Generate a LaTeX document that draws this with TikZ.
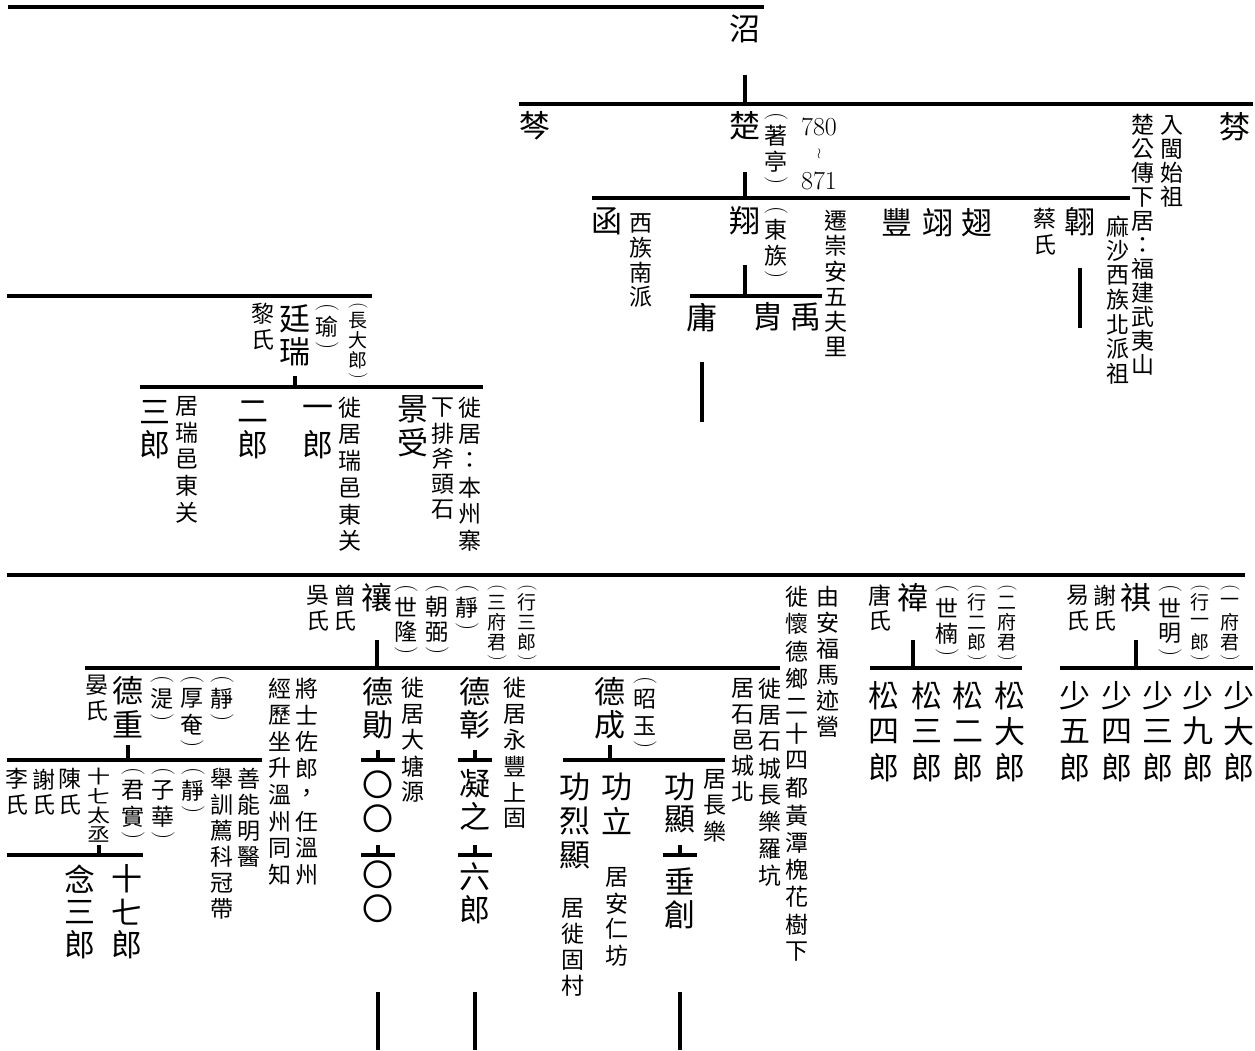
\documentclass[tikz,border=0pt]{standalone}
\usepackage{fontspec}
\usepackage{graphicx}
\usetikzlibrary{calc}
\newfontfamily\cjk{Noto Sans CJK TC}
\def\vtp{26pt}
\makeatletter
\def\vt@loop#1{\ifx#1\relax\else\vt@cell#1\expandafter\vt@loop\fi}
\def\vt@cell#1{%
  \ifx#1︵\vt@paren(\else
  \ifx#1︶\vt@paren)\else
  \vbox to\vt@p{\vss\hbox to1em{\hss#1\hss}\vss}\fi\fi}
\def\vt@paren#1{\vbox to.5em{\vss\hbox to1em{\hss\rotatebox{-90}{\normalfont#1}\hss}\vss}}
\newcommand\vt[2][\vtp]{\vbox{\offinterlineskip\edef\vt@p{#1}\vt@loop#2\relax}}
\makeatother

\begin{document}
\begin{tikzpicture}[x=1pt,y=-1pt,
  big/.style={font=\cjk\fontsize{31}{31}\selectfont\def\vtp{34pt},inner sep=0pt,anchor=north},
  note/.style={font=\cjk\fontsize{23}{23}\selectfont\def\vtp{26pt},inner sep=0pt,anchor=north},
  tiny/.style={font=\cjk\fontsize{19}{19}\selectfont\def\vtp{20pt},inner sep=0pt,anchor=north},
  year/.style={font=\fontsize{26}{26}\selectfont,inner sep=0pt},
  bar/.style={line width=3.5pt}]
  \useasboundingbox (0,0) rectangle (1255,1050);

  \coordinate (b0L) at (8,7);      \coordinate (b0R) at (764,7);
  \coordinate (b1L) at (519,104);  \coordinate (b1R) at (1253,104);
  \coordinate (b2L) at (592,198);  \coordinate (b2R) at (1130,198);
  \coordinate (b3L) at (690,296);  \coordinate (b3R) at (822,296);
  \coordinate (b4L) at (7,296);    \coordinate (b4R) at (372,296);
  \coordinate (b5L) at (140,387);  \coordinate (b5R) at (483,387);
  \coordinate (b6L) at (7,575);    \coordinate (b6R) at (1245,575);
  \coordinate (b7L) at (85,668);   \coordinate (b7R) at (780,668);
  \coordinate (b8L) at (870,668);  \coordinate (b8R) at (1022,668);
  \coordinate (b9L) at (1060,668); \coordinate (b9R) at (1253,668);
  \coordinate (b10L) at (7,760);   \coordinate (b10R) at (262,760);
  \coordinate (b11L) at (7,855);   \coordinate (b11R) at (143,855);
  \coordinate (b12L) at (563,760); \coordinate (b12R) at (725,760);
  \foreach \i in {0,...,12}
    \draw[bar] (b\i L) -- (b\i R);

  \node[big] (zhao) at (745,12) {\vt{沼}};

  \node[big] (chen) at (535,109) {\vt{棽}};
  \node[big] (chu) at (745,109) {\vt{楚}};
  \node[note] (chuzi) at (776,111) {\vt{︵著亭︶}};
  \node[year] (chuA) at (819,127) {780};
  \node[year,font=\fontsize{15}{15}\selectfont] (chuB) at (819,154) {$\wr$};
  \node[year] (chuC) at (819,181) {871};
  \node[big] (fen) at (1235,109) {\vt{棼}};
  \node[note] (fenA) at (1172,113) {\vt[24pt]{入閩始祖}};
  \node[note] (fenB) at (1143,113) {\vt[24pt]{楚公傳下居：福建武夷山}};
  \node[note] (fenC) at (1118,214) {\vt[24.5pt]{麻沙西族北派祖}};

  \node[big] (han) at (607,204) {\vt{函}};
  \node[note] (hanA) at (641,211) {\vt[24.5pt]{西族南派}};
  \node[big] (xiang) at (745,204) {\vt{翔}};
  \node[note] (xiangzi) at (776,205) {\vt{︵東族︶}};
  \node[note] (xiangA) at (836,208) {\vt[25.3pt]{遷崇安五夫里}};
  \node[big] (feng) at (897,205) {\vt{豐}};
  \node[big] (yi) at (938,205) {\vt{翊}};
  \node[big] (chi) at (977,205) {\vt{翅}};
  \node[note] (caiShi) at (1045,206) {\vt{蔡氏}};
  \node[big] (ao) at (1080,204) {\vt{翺}};

  \node[big] (yong) at (702,300) {\vt{庸}};
  \node[big] (zhou) at (768,300) {\vt{胄}};
  \node[big] (yu) at (806,300) {\vt{禹}};

  \node[note] (liShi) at (263,301) {\vt{黎氏}};
  \node[big] (tingrui) at (295,302) {\vt[33pt]{廷瑞}};
  \node[note] (tingruizi) at (327,302) {\vt{︵瑜︶}};
  \node[tiny] (tingruiA) at (358,301) {\vt{︵長大郎︶}};
  \node[big] (sanlang) at (155,395) {\vt[33pt]{三郎}};
  \node[note] (sanlangA) at (187,393) {\vt[26.5pt]{居瑞邑東关}};
  \node[big] (erlang) at (253,395) {\vt[33pt]{二郎}};
  \node[big] (yilang) at (318,395) {\vt[33pt]{一郎}};
  \node[note] (yilangA) at (350,394) {\vt[26.7pt]{徙居瑞邑東关}};
  \node[big] (jingshou) at (413,393) {\vt[33pt]{景受}};
  \node[note] (jingshouA) at (443,395) {\vt[25.5pt]{下排斧頭石}};
  \node[note] (jingshouB) at (470,394) {\vt[26.7pt]{徙居：本州寨}};

  \node[note] (wuShi) at (318,582) {\vt{吳氏}};
  \node[note] (zengShi) at (345,582) {\vt{曾氏}};
  \node[big] (rang) at (377,580) {\vt{禳}};
  \node[note] (rangA) at (406,583) {\vt[25pt]{︵世隆︶}};
  \node[note] (rangB) at (437,583) {\vt[25pt]{︵朝弼︶}};
  \node[note] (rangC) at (467,583) {\vt{︵靜︶}};
  \node[tiny] (rangD) at (497,583) {\vt{︵三府君︶}};
  \node[tiny] (rangE) at (527,583) {\vt{︵行三郎︶}};
  \node[note] (rangF) at (797,583) {\vt[27.3pt]{徙懷德鄉二十四都黃潭槐花樹下}};
  \node[note] (rangG) at (828,584) {\vt{由安福馬迹營}};

  \node[note] (tangShi) at (880,582) {\vt{唐氏}};
  \node[big] (wei) at (913,580) {\vt{禕}};
  \node[note] (weiA) at (947,583) {\vt{︵世楠︶}};
  \node[tiny] (weiB) at (977,583) {\vt{︵行二郎︶}};
  \node[tiny] (weiC) at (1007,583) {\vt{︵二府君︶}};
  \node[big] (song4) at (884,677) {\vt[36pt]{松四郎}};
  \node[big] (song3) at (927,677) {\vt[36pt]{松三郎}};
  \node[big] (song2) at (968,677) {\vt[36pt]{松二郎}};
  \node[big] (song1) at (1010,677) {\vt[36pt]{松大郎}};

  \node[note] (yiShi) at (1078,582) {\vt{易氏}};
  \node[note] (xieShi) at (1105,582) {\vt{謝氏}};
  \node[big] (qi) at (1136,580) {\vt{祺}};
  \node[note] (qiA) at (1170,583) {\vt{︵世明︶}};
  \node[tiny] (qiB) at (1200,583) {\vt{︵行一郎︶}};
  \node[tiny] (qiC) at (1230,583) {\vt{︵一府君︶}};
  \node[big] (shao5) at (1075,677) {\vt[36pt]{少五郎}};
  \node[big] (shao4) at (1117,677) {\vt[36pt]{少四郎}};
  \node[big] (shao3) at (1158,677) {\vt[36pt]{少三郎}};
  \node[big] (shao9) at (1198,677) {\vt[36pt]{少九郎}};
  \node[big] (shao1) at (1239,677) {\vt[36pt]{少大郎}};

  \node[note] (yanShi) at (97,672) {\vt{晏氏}};
  \node[big] (dezhong) at (128,673) {\vt{德重}};
  \node[note] (dezhongA) at (162,674) {\vt{︵湜︶}};
  \node[note] (dezhongB) at (192,674) {\vt{︵厚奄︶}};
  \node[note] (dezhongC) at (222,674) {\vt{︵靜︶}};
  \node[note] (dezhongD) at (307,675) {\vt[26.6pt]{將士佐郎，任溫州}};
  \node[note] (dezhongE) at (280,675) {\vt[26.6pt]{經歷坐升溫州同知}};
  \node[note] (dezhongF) at (249,766) {\vt{善能明醫}};
  \node[note] (dezhongG) at (222,766) {\vt{舉訓薦科冠帶}};

  \node[note] (liShi2) at (17,766) {\vt{李氏}};
  \node[note] (xieShi2) at (44,766) {\vt{謝氏}};
  \node[note] (chenShi) at (70,766) {\vt{陳氏}};
  \node[note] (taicheng) at (99,767) {\scalebox{1}[0.8]{\vt[24pt]{十七太丞}}};
  \node[note] (taichengA) at (133,766) {\vt{︵君實︶}};
  \node[note] (taichengB) at (163,766) {\vt{︵子華︶}};
  \node[note] (taichengC) at (193,766) {\vt{︵靜︶}};
  \node[big] (niansan) at (80,862) {\vt[33pt]{念三郎}};
  \node[big] (shiqi) at (127,862) {\vt[33pt]{十七郎}};

  \node[big] (dexun) at (378,675) {\vt[33pt]{德勛}};
  \node[note] (dexunA) at (413,675) {\vt{徙居大塘源}};
  \node[big] (quanA) at (378,768) {\vt{〇〇}};
  \node[big] (quanB) at (378,858) {\vt{〇〇}};
  \node[big] (dezhang) at (475,675) {\vt[33pt]{德彰}};
  \node[note] (dezhangA) at (515,675) {\vt{徙居永豐上固}};
  \node[big] (ningzhi) at (475,767) {\vt[33pt]{凝之}};
  \node[big] (liulang) at (475,860) {\vt[33pt]{六郎}};
  \node[big] (decheng) at (610,675) {\vt[33pt]{德成}};
  \node[note] (dechengA) at (645,675) {\vt{︵昭玉︶}};
  \node[note] (dechengB) at (743,675) {\vt{居石邑城北}};
  \node[note] (dechengC) at (770,675) {\vt[26.7pt]{徙居石城長樂羅坑}};
  \node[big] (gonglie) at (575,770) {\vt[34pt]{功烈顯}};
  \node[note] (gonglieA) at (573,895) {\vt{居徙固村}};
  \node[big] (gongli) at (617,770) {\vt[34pt]{功立}};
  \node[note] (gongliA) at (617,864) {\vt{居安仁坊}};
  \node[big] (gongxian) at (680,770) {\vt[33pt]{功顯}};
  \node[note] (gongxianA) at (715,766) {\vt{居長樂}};
  \node[big] (chuichuang) at (680,865) {\vt[33pt]{垂創}};

  \draw[bar] (zhao |- 0,75) -- (zhao |- b1L);
  \draw[bar] (chu |- 0,172) -- (chu |- b2L);
  \draw[bar] (xiang |- 0,265) -- (xiang |- b3L);
  \draw[bar] (yong |- 0,362) -- (yong |- 0,422);
  \draw[bar] (ao |- 0,268) -- (ao |- 0,328);
  \draw[bar] (tingrui |- 0,376) -- (tingrui |- b5L);
  \draw[bar] (rang |- 0,640) -- (rang |- b7L);
  \draw[bar] (wei |- 0,640) -- (wei |- b8L);
  \draw[bar] (qi |- 0,640) -- (qi |- b9L);
  \draw[bar] (dezhong |- 0,745) -- (dezhong |- b10L);
  \draw[bar] (taicheng |- 0,845) -- (taicheng |- b11L);
  \draw[bar] (decheng |- 0,745) -- (decheng |- b12L);
  \foreach \n/\y in {dexun/760,dexun/855,dezhang/760,dezhang/855,gongxian/855}{
    \draw[bar] (\n |- 0,\y) ++(0,-10) -- (\n |- 0,\y);
    \draw[bar] ($(\n |- 0,\y)+(-17,0)$) -- ($(\n |- 0,\y)+(17,0)$);
  }
  \foreach \n in {dexun,dezhang,gongxian}
    \draw[bar] (\n |- 0,992) -- (\n |- 0,1050);
\end{tikzpicture}
\end{document}
